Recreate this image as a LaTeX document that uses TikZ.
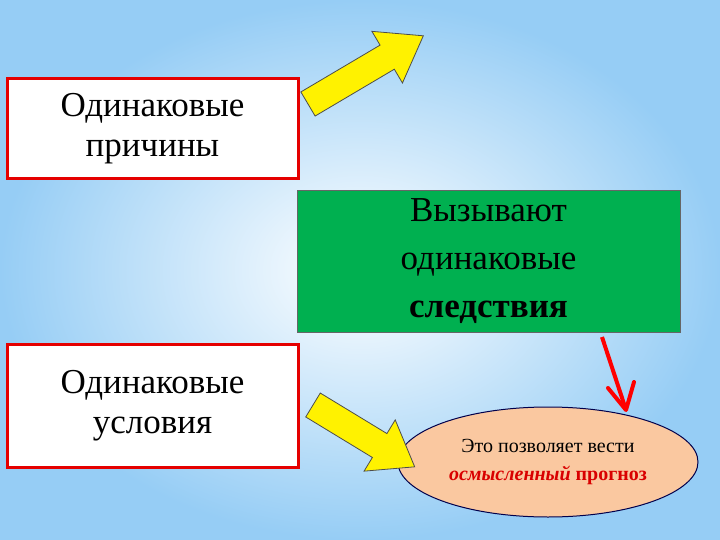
\documentclass[tikz,border=0pt]{standalone}
\usepackage{fontspec}
\setmainfont{Liberation Serif}
\usetikzlibrary{shapes.geometric,calc}
\definecolor{bgblue}{RGB}{150,205,245}
\definecolor{grn}{RGB}{0,176,80}
\definecolor{peach}{RGB}{250,200,160}
\begin{document}
\begin{tikzpicture}[x=1pt,y=-1pt,
  redbox/.style={draw=red!90!black,line width=3pt,fill=white,minimum width=291pt,minimum height=100pt,align=center,font=\fontsize{35}{40}\selectfont},
  yarrow/.style={draw=black!70,line width=0.8pt,fill=yellow}]
\useasboundingbox (0,0) rectangle (720,540);
\shade[inner color=white,outer color=bgblue] (0,0) rectangle (720,540);
\node[redbox] (c1) at (152.5,129) {Одинаковые\\причины};
\node[redbox,minimum height=123pt] (c2) at (152.5,405.5) {Одинаковые\\условия};
\node[draw=black!60,fill=grn,minimum width=383pt,minimum height=142pt,align=center,font=\fontsize{35}{48}\selectfont] (g) at (488.5,261) {Вызывают\\одинаковые\\\textbf{следствия}};
\node[ellipse,draw=black!70!blue,line width=1pt,fill=peach,minimum width=300pt,minimum height=110pt,align=center,font=\fontsize{20}{28}\selectfont] (e) at (548,462) {Это позволяет вести\\\textcolor{red!85!black}{\textbf{\textit{осмысленный}} \textbf{прогноз}}};
\begin{scope}[shift={(308,104)},rotate=30.6]
\draw[yarrow] (0,-14)--(92,-14)--(92,-30)--(134,0)--(92,30)--(92,14)--(0,14)--cycle;
\end{scope}
\begin{scope}[shift={(313,405)},rotate=-31.3]
\draw[yarrow] (0,-14)--(78,-14)--(78,-30)--(119,0)--(78,30)--(78,14)--(0,14)--cycle;
\end{scope}
\coordinate (r1) at (602,337);
\coordinate (r2) at (626,410);
\draw[red,line width=4pt] (r1) -- (r2);
\draw[red,line width=4pt,line cap=round,line join=round] ($(r2)+(-18,-22)$) -- (r2) -- ($(r2)+(8,-28)$);
\end{tikzpicture}
\end{document}
